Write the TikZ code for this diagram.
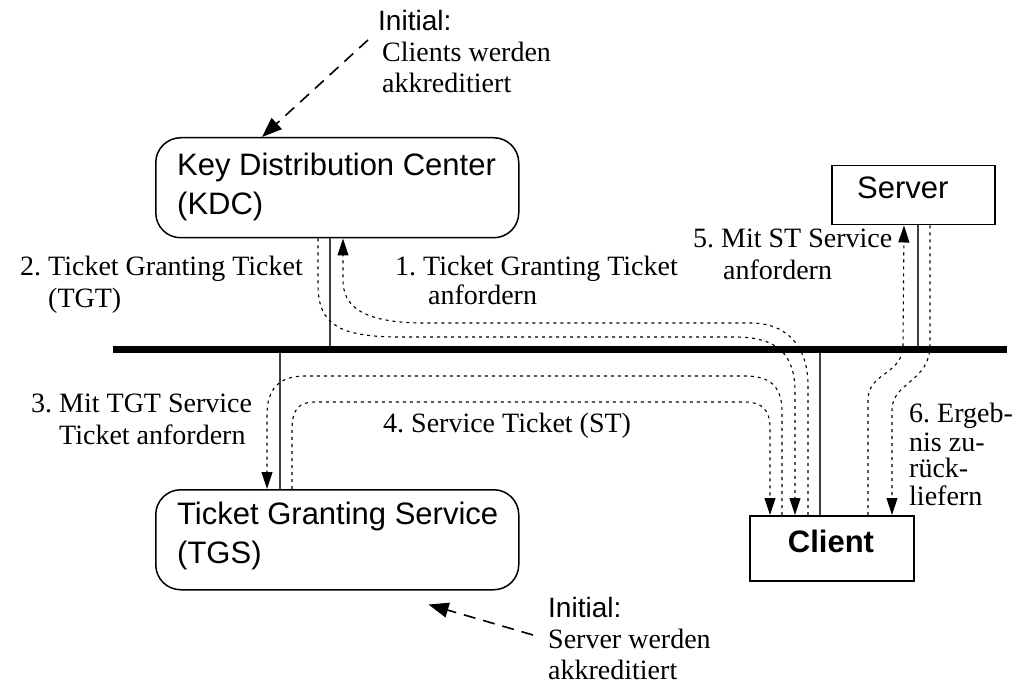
\documentclass[tikz,border=0pt]{standalone}
\usepackage{fontspec}
\setmainfont{Liberation Serif}
\newfontfamily\hv{Liberation Sans}
\frenchspacing
\usetikzlibrary{arrows.meta}
\tikzset{
  rbox/.style={draw, line width=1.5pt, rounded corners=25pt, inner sep=0pt, anchor=north west, minimum width=363pt, minimum height=100pt},
  sbox/.style={draw, line width=1.5pt, inner sep=0pt, anchor=north west},
  lab/.style={anchor=base west, inner sep=0pt},
  boxlab/.style={anchor=base west, inner sep=0pt, font=\fontsize{31}{36}\hv},
  wire/.style={line width=1.2pt, draw=black!75},
  flow/.style={line width=1.1pt, dash pattern=on 3pt off 4pt, -{Triangle[length=17pt,width=11pt]}},
  initarrow/.style={line width=1.6pt, dash pattern=on 12pt off 8pt, -{Triangle[length=20pt,width=15pt]}},
  bus/.style={line width=7pt}
}
\begin{document}
\begin{tikzpicture}[x=1pt,y=-1pt,font=\fontsize{28}{32}\selectfont]
\useasboundingbox (0,0) rectangle (1031,684);
% boxes
\node[rbox] (kdc) at (155,137) {};
\node[rbox] (tgs) at (155,489) {};
\node[sbox, minimum width=163pt, minimum height=59pt] (server) at (831,165) {};
\node[sbox, minimum width=164pt, minimum height=65pt] (client) at (749,515) {};
% box labels
\node[boxlab] (kdcA) at (177,176) {Key Distribution Center};
\node[boxlab] (kdcB) at (177,215) {(KDC)};
\node[boxlab] (tgsA) at (177,524) {Ticket Granting Service};
\node[boxlab] (tgsB) at (177,563) {(TGS)};
\node[boxlab] (serverL) at (857,199) {Server};
\node[anchor=base, inner sep=0pt, font=\fontsize{31}{36}\hv\bfseries] (clientL) at (831,552) {Client};
% bus
\coordinate (busL) at (113,350);
\coordinate (busR) at (1007,350);
% wires
\draw[wire] ([xshift=175pt]kdc.south west) -- ++(0,113);
\draw[wire] ([xshift=125pt]tgs.north west) -- ++(0,-139);
\draw[wire] ([xshift=71pt]client.north west) -- ++(0,-165);
\draw[wire] ([xshift=87pt]server.south west) -- ++(0,126);
\draw[bus] (busL) -- (busR);
% flows
\draw[flow] ([xshift=59pt]client.north west) -- (808,385) .. controls (808,352) and (792,323) .. (750,323) -- (425,323) .. controls (360,323) and (343,305) .. (343,280) -- ([xshift=188pt]kdc.south west);
\draw[flow] ([xshift=163pt]kdc.south west) -- (318,285) .. controls (318,325) and (340,337) .. (400,337) -- (735,337) .. controls (778,337) and (795,355) .. (795,392) -- ([xshift=46pt]client.north west);
\draw[flow] ([xshift=33pt]client.north west) -- (782,412) .. controls (782,388) and (772,376) .. (745,376) -- (305,376) .. controls (278,376) and (267,390) .. (267,415) -- ([xshift=112pt]tgs.north west);
\draw[flow] ([xshift=137pt]tgs.north west) -- (292,430) .. controls (292,410) and (298,402) .. (315,402) -- (745,402) .. controls (762,402) and (770,410) .. (770,428) -- ([xshift=21pt]client.north west);
\draw[flow] ([xshift=119pt]client.north west) -- (868,400) .. controls (868,372) and (903,375) .. (903,345) -- ([xshift=73pt]server.south west);
\draw[flow] ([xshift=99pt]server.south west) -- (930,345) .. controls (930,382) and (892,382) .. (892,410) -- ([xshift=143pt]client.north west);
% initial notes
\node[lab, font=\fontsize{28}{32}\hv] (initA) at (378,31) {Initial:};
\node[lab] (initB) at (382,62) {Clients werden};
\node[lab] (initC) at (382,93) {akkreditiert};
\node[lab, font=\fontsize{28}{32}\hv] (initD) at (548,617) {Initial:};
\node[lab] (initE) at (548,648) {Server werden};
\node[lab] (initF) at (548,679) {akkreditiert};
\coordinate (initS1) at (368,40);
\coordinate (initS2) at (533,635);
\draw[initarrow] (initS1) -- ([xshift=107pt]kdc.north west);
\draw[initarrow] (initS2) -- ([xshift=-91pt,yshift=-14pt]tgs.south east);
% flow labels
\node[lab] (t2a) at (20,276) {2. Ticket Granting Ticket};
\node[lab] (t2b) at (48,308) {(TGT)};
\node[lab] (t1a) at (395,276) {1. Ticket Granting Ticket};
\node[lab] (t1b) at (428,305) {anfordern};
\node[lab] (t5a) at (693,248) {5. Mit ST Service};
\node[lab] (t5b) at (723,280) {anfordern};
\node[lab] (t3a) at (31,413) {3. Mit TGT Service};
\node[lab] (t3b) at (59,445) {Ticket anfordern};
\node[lab] (t4) at (383,432) {4. Service Ticket (ST)};
\node[lab] (t6a) at (909,423) {6. Ergeb-};
\node[lab] (t6b) at (909,452) {nis zu-};
\node[lab] (t6c) at (909,478) {rück-};
\node[lab] (t6d) at (909,505) {liefern};
\end{tikzpicture}
\end{document}
